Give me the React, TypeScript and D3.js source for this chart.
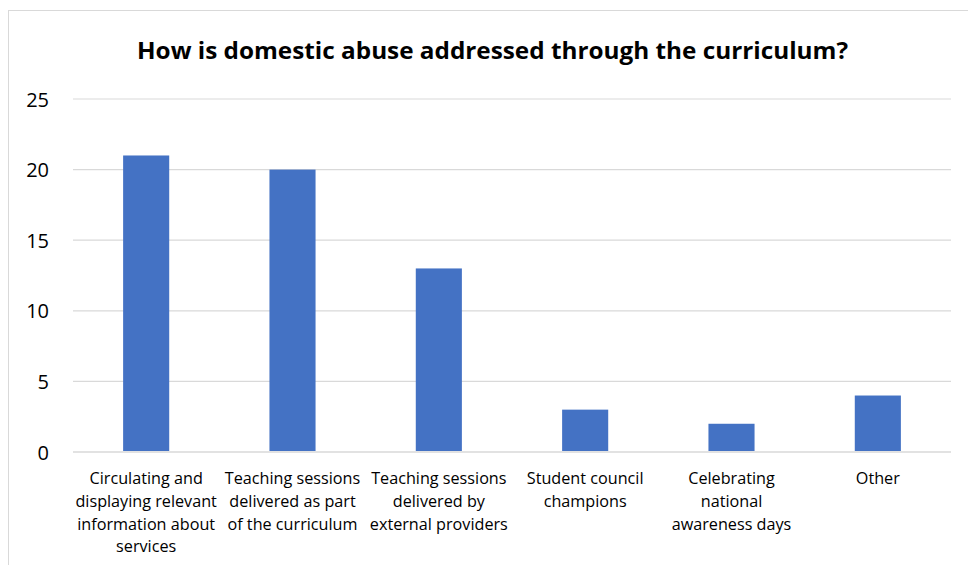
import React from "react";
import * as d3 from "d3";

const title = "How is domestic abuse addressed through the curriculum?";
const categories = [
  "Circulating and displaying relevant information about services",
  "Teaching sessions delivered as part of the curriculum",
  "Teaching sessions delivered by external providers",
  "Student council champions",
  "Celebrating national awareness days",
  "Other",
];
const categoryLines = [
  ["Circulating and", "displaying relevant", "information about", "services"],
  ["Teaching sessions", "delivered as part", "of the curriculum"],
  ["Teaching sessions", "delivered by", "external providers"],
  ["Student council", "champions"],
  ["Celebrating", "national", "awareness days"],
  ["Other"],
];
const values = [21, 20, 13, 3, 2, 4];
const yTicks = [0, 5, 10, 15, 20, 25];

export default function App() {
  const W = 968, H = 565;
  const left = 73, right = 951, top = 99, bottom = 452;
  const x = d3.scaleBand<string>().domain(categories).range([left, right]).paddingInner(0.685).paddingOuter(0.3425);
  const y = d3.scaleLinear().domain([0, 25]).range([bottom, top]);
  const font = "'Open Sans', sans-serif";
  return (
    <svg width={W} height={H} style={{ position: "absolute", left: 0, top: 0, background: "#fff" }}>
      <rect x={8.5} y={10.5} width={980} height={600} fill="#fff" stroke="#d9d9d9" strokeWidth={1} />
      <text x={492.5} y={59} textAnchor="middle" fontFamily={font} fontWeight="bold" fontSize={23.5} fill="#000"
        textLength={711} lengthAdjust="spacingAndGlyphs">
        {title}
      </text>
      {yTicks.map((t) => (
        <g key={t}>
          <line x1={left} x2={right} y1={y(t)} y2={y(t)} stroke="#d9d9d9" strokeWidth={t === 0 ? 1.5 : 1.2} />
          <text x={49} y={y(t) + 7.5} textAnchor="end" fontFamily={font} fontSize={20} fill="#000">
            {t}
          </text>
        </g>
      ))}
      {categories.map((c, i) => (
        <rect key={c} x={x(c)} y={y(values[i])} width={x.bandwidth()} height={y(0) - y(values[i]) - 1} fill="#4472c4" />
      ))}
      {categories.map((c, i) => (
        <text key={"l" + c} textAnchor="middle" fontFamily={font} fontSize={16.2} fill="#000">
          {categoryLines[i].map((ln, j) => (
            <tspan key={j} x={(x(c) as number) + x.bandwidth() / 2} y={484 + j * 22.8}>
              {ln}
            </tspan>
          ))}
        </text>
      ))}
    </svg>
  );
}
